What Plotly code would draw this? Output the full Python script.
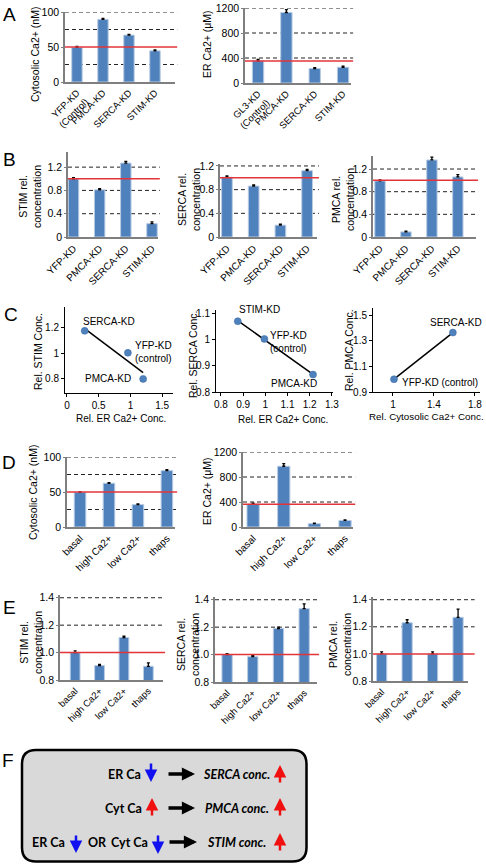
import numpy as np
import plotly.graph_objects as go

W, H = 486, 864
FONT = "Liberation Sans, Arial, sans-serif"
BAR = "#4f81bd"
BAR_EDGE = "#b8cce4"
RED = "#e3343a"
AX = "#7f7f7f"

# ---------------- data ----------------
a_cyt_cats = ["YFP-KD<br>(Control)", "PMCA-KD", "SERCA-KD", "STIM-KD"]
a_cyt_vals = [49.5, 89.5, 67, 44.5]
a_cyt_err = [1.2, 1.2, 1.0, 1.2]
a_cyt_ref = 50

a_er_cats = ["GL3-KD<br>(Control)", "PMCA-KD", "SERCA-KD", "STIM-KD"]
a_er_vals = [355, 1128, 232, 252]
a_er_err = [22, 45, 14, 18]
a_er_ref = 352

b_cats = ["YFP-KD", "PMCA-KD", "SERCA-KD", "STIM-KD"]
b_stim_vals = [1.0, 0.81, 1.27, 0.23]
b_stim_err = [0.02, 0.02, 0.03, 0.03]
b_serca_vals = [1.01, 0.86, 0.2, 1.12]
b_serca_err = [0.02, 0.02, 0.015, 0.02]
b_pmca_vals = [0.99, 0.09, 1.36, 1.06]
b_pmca_err = [0.02, 0.015, 0.05, 0.04]
b_ref = 1.0

c1_x = [0.28, 0.96, 1.2]
c1_y = [1.174, 1.003, 0.8]
c1_labels = ["SERCA-KD", "YFP-KD<br>(control)", "PMCA-KD"]
c2_x = [0.876, 0.996, 1.215]
c2_y = [1.072, 1.004, 0.867]
c2_labels = ["STIM-KD", "YFP-KD<br>(control)", "PMCA-KD"]
c3_x = [1.01, 1.585]
c3_y = [1.0, 1.365]
c3_labels = ["YFP-KD (control)", "SERCA-KD"]

d_cats = ["basal", "high Ca2+", "low Ca2+", "thaps"]
d_cyt_vals = [49.5, 62.5, 32, 80.5]
d_cyt_err = [0.8, 1.0, 1.0, 1.5]
d_cyt_ref = 50
d_er_vals = [365, 972, 53, 105]
d_er_err = [15, 42, 8, 8]
d_er_ref = 365

e_cats = ["basal", "high Ca2+", "low Ca2+", "thaps"]
e_stim_vals = [1.0, 0.905, 1.11, 0.9]
e_stim_err = [0.012, 0.008, 0.01, 0.025]
e_serca_vals = [1.0, 0.985, 1.19, 1.335]
e_serca_err = [0.006, 0.008, 0.01, 0.035]
e_pmca_vals = [1.0, 1.23, 1.0, 1.27]
e_pmca_err = [0.015, 0.022, 0.015, 0.06]
e_ref = 1.0

# ---------------- figure ----------------
fig = go.Figure()
layout = dict(width=W, height=H, margin=dict(l=0, r=0, t=0, b=0), autosize=False,
              paper_bgcolor="white", plot_bgcolor="white", showlegend=False,
              font=dict(family=FONT, size=10, color="black"))
shapes = []
annotations = []


def PX(x):
    return x / W


def PY(y):
    return 1 - y / H


def names(i):
    return ("xaxis" if i == 1 else f"xaxis{i}", "yaxis" if i == 1 else f"yaxis{i}",
            "x" if i == 1 else f"x{i}", "y" if i == 1 else f"y{i}")


def set_axes(i, box, xr, yr, xkw, ykw):
    xa, ya, xs, ys = names(i)
    x0, y0, x1, y1 = box
    layout[xa] = dict(domain=[PX(x0), PX(x1)], range=xr, anchor=ys, automargin=False,
                      showgrid=False, zeroline=False, fixedrange=True, **xkw)
    layout[ya] = dict(domain=[PY(y1), PY(y0)], range=yr, anchor=xs, automargin=False,
                      showgrid=False, zeroline=False, fixedrange=True, **ykw)


def bar_panel(i, box, cats, vals, err, xr, yr, tickvals, dashed, ref, bw=0.4, tickformat=None,
              x1ext=1.02, catsize=10):
    xa, ya, xs, ys = names(i)
    xkw = dict(type="category", showline=True, linecolor=AX, linewidth=1.5, ticks="",
               tickangle=-45, tickfont=dict(size=catsize))
    ykw = dict(showline=True, linecolor=AX, linewidth=1.5, ticks="outside", ticklen=2,
               tickcolor=AX, tickvals=tickvals, tickfont=dict(size=10.5))
    if tickformat:
        ykw["tickformat"] = tickformat
    set_axes(i, box, xr, yr, xkw, ykw)
    fig.add_trace(go.Bar(x=cats, y=vals, xaxis=xs, yaxis=ys, width=bw,
                         marker=dict(color=BAR, line=dict(color=BAR_EDGE, width=1)),
                         error_y=dict(type="data", array=err, arrayminus=[0] * len(err),
                                      symmetric=False, color="black", thickness=1.3, width=1.5)))
    for v in dashed:
        shapes.append(dict(type="line", xref=f"{xs} domain", yref=ys, x0=0, x1=x1ext, y0=v, y1=v,
                           layer="below", line=dict(color="#222222", width=1, dash="4px,3px")))
    shapes.append(dict(type="line", xref=f"{xs} domain", yref=ys, x0=0, x1=x1ext, y0=ref, y1=ref,
                       layer="above", line=dict(color=RED, width=1.5)))


def scatter_panel(i, box, xs_, ys_, labels, xr, yr, xt, yt, label_pos):
    xa, ya, xs, ys = names(i)
    kw = dict(showline=True, linecolor="black", linewidth=1, ticks="outside", ticklen=3,
              tickcolor="black", tickfont=dict(size=10))
    set_axes(i, box, xr, yr, dict(kw, tickvals=xt), dict(kw, tickvals=yt))
    slope, icpt = np.polyfit(xs_, ys_, 1)
    lx = [min(xs_), max(xs_)]
    fig.add_trace(go.Scatter(x=lx, y=[slope * v + icpt for v in lx], mode="lines", xaxis=xs, yaxis=ys,
                             line=dict(color="black", width=1.5)))
    fig.add_trace(go.Scatter(x=xs_, y=ys_, mode="markers", xaxis=xs, yaxis=ys,
                             marker=dict(color=BAR, size=7, line=dict(color="#3a6aa5", width=0.5))))
    for xv, yv, lab, (anc, dx, dy) in zip(xs_, ys_, labels, label_pos):
        annotations.append(dict(x=xv, y=yv, xref=xs, yref=ys, text=lab, showarrow=False,
                                xanchor=anc, yanchor="middle", xshift=dx, yshift=dy,
                                align="center", font=dict(size=10)))


# Panel A
bar_panel(1, (65, 12, 175, 82), a_cyt_cats, a_cyt_vals, a_cyt_err, [-0.46, 3.77], [0, 100],
          [0, 50, 100], [25, 75, 100], a_cyt_ref, catsize=9.5)
bar_panel(2, (245, 8, 351, 83), a_er_cats, a_er_vals, a_er_err, [-0.46, 3.28], [0, 1200],
          [0, 400, 800, 1200], [400, 800, 1200], a_er_ref, catsize=9.5)
# Panel B
bar_panel(3, (68, 152, 158, 237), b_cats, b_stim_vals, b_stim_err, [-0.21, 3.23], [0, 1.46],
          [0, 0.4, 0.8, 1.2], [0.4, 0.8, 1.2], b_ref)
bar_panel(4, (220, 164, 317, 237), b_cats, b_serca_vals, b_serca_err, [-0.26, 3.37], [0, 1.233],
          [0, 0.4, 0.8, 1.2], [0.4, 0.8, 1.2], b_ref)
bar_panel(5, (373, 156, 476, 237), b_cats, b_pmca_vals, b_pmca_err, [-0.27, 3.7], [0, 1.43],
          [0, 0.4, 0.8, 1.2], [0.4, 0.8, 1.2], b_ref)
# Panel C
scatter_panel(6, (65, 307, 173, 393), c1_x, c1_y, c1_labels, [-0.03, 1.67], [0.69, 1.36],
              [0, 0.5, 1, 1.5], [0.8, 1, 1.2],
              [("left", -4, 9), ("left", 5, 1), ("right", -10, 0)])
scatter_panel(7, (216, 310, 333, 392), c2_x, c2_y, c2_labels, [0.778, 1.305], [0.8, 1.115],
              [0.8, 0.9, 1, 1.1, 1.2, 1.3], [0.8, 0.9, 1, 1.1],
              [("left", -1, 12), ("left", 4, -3), ("right", 6, -9)])
scatter_panel(8, (373, 308, 480, 392), c3_x, c3_y, c3_labels, [0.805, 1.85], [0.9, 1.557],
              [1, 1.4, 1.8], [0.9, 1.1, 1.3, 1.5],
              [("left", 6, -3), ("center", 3, 10)])
# Panel D
bar_panel(9, (67, 457, 175, 527), d_cats, d_cyt_vals, d_cyt_err, [-0.45, 3.28], [0, 100],
          [0, 50, 100], [25, 75, 100], d_cyt_ref)
bar_panel(10, (243, 452, 353, 527), d_cats, d_er_vals, d_er_err, [-0.33, 3.26], [0, 1200],
          [0, 400, 800, 1200], [400, 800, 1200], d_er_ref)
# Panel E
bar_panel(11, (60, 595, 163, 680), e_cats, e_stim_vals, e_stim_err, [-0.62, 3.6], [0.8, 1.42],
          [0.8, 1.0, 1.2, 1.4], [1.2, 1.4], e_ref, tickformat=".1f", catsize=9.5)
bar_panel(12, (215, 597, 317, 682), e_cats, e_serca_vals, e_serca_err, [-0.47, 3.5], [0.8, 1.42],
          [0.8, 1.0, 1.2, 1.4], [1.2, 1.4], e_ref, tickformat=".1f", catsize=9.5)
bar_panel(13, (373, 597, 468, 681), e_cats, e_pmca_vals, e_pmca_err, [-0.34, 3.39], [0.8, 1.42],
          [0.8, 1.0, 1.2, 1.4], [1.2, 1.4], e_ref, tickformat=".1f", x1ext=1.07, catsize=9.5)


# ---------------- text ----------------
def txt(x, y, s, size=10.5, angle=0, xanchor="center", yanchor="middle", family=FONT, color="black", align="center"):
    annotations.append(dict(x=PX(x), y=PY(y), xref="paper", yref="paper", text=s, showarrow=False,
                            textangle=angle, xanchor=xanchor, yanchor=yanchor, align=align,
                            font=dict(size=size, family=family, color=color)))


# panel letters
for letter, (lx, ly) in {"A": (9, 14), "B": (9, 160), "C": (11, 315), "D": (9, 462),
                         "E": (9, 607), "F": (8, 760)}.items():
    txt(lx, ly, letter, size=19)

# y-axis titles
txt(35, 55, "Cytosolic Ca2+ (nM)", angle=-90)
txt(207, 44, "ER Ca2+ (μM)", angle=-90)
txt(30, 197, "STIM rel.<br>concentration", angle=-90)
txt(189, 200, "SERCA rel.<br>concentration", angle=-90)
txt(343, 200, "PMCA rel.<br>concentration", angle=-90)
txt(38, 352, "Rel. STIM Conc.", angle=-90)
txt(193, 354, "Rel. SERCA Conc.", angle=-90)
txt(349, 350, "Rel. PMCA Conc.", angle=-90)
txt(121, 418, "Rel. ER Ca2+ Conc.", size=10)
txt(283, 419, "Rel. ER Ca2+ Conc.", size=10)
txt(426, 417, "Rel. Cytosolic Ca2+ Conc.", size=9.8)
txt(33, 493, "Cytosolic Ca2+ (nM)", angle=-90)
txt(207, 491, "ER Ca2+ (μM)", angle=-90)
txt(31, 643, "STIM rel.<br>concentration", angle=-90)
txt(188, 645, "SERCA rel.<br>concentration", angle=-90)
txt(340, 645, "PMCA rel.<br>concentration", angle=-90)


# ---------------- panel F ----------------
def rrect(x0, y0, x1, y1, r):
    p = [f"M {PX(x0 + r)},{PY(y0)}", f"L {PX(x1 - r)},{PY(y0)}",
         f"Q {PX(x1)},{PY(y0)} {PX(x1)},{PY(y0 + r)}", f"L {PX(x1)},{PY(y1 - r)}",
         f"Q {PX(x1)},{PY(y1)} {PX(x1 - r)},{PY(y1)}", f"L {PX(x0 + r)},{PY(y1)}",
         f"Q {PX(x0)},{PY(y1)} {PX(x0)},{PY(y1 - r)}", f"L {PX(x0)},{PY(y0 + r)}",
         f"Q {PX(x0)},{PY(y0)} {PX(x0 + r)},{PY(y0)}", "Z"]
    return " ".join(p)


shapes.append(dict(type="path", xref="paper", yref="paper", path=rrect(22, 750, 306.5, 861.5, 14),
                   fillcolor="#d9d9d9", line=dict(color="black", width=2.5), layer="below"))

FF = "Lato, Carlito, Liberation Sans, sans-serif"


def ftxt(x, y, s, anchor):
    txt(x, y, s, size=12.5, xanchor=anchor, family=FF)


def arrow(xh, yh, ax, ay, color, width=2.5, size=1.0):
    annotations.append(dict(x=PX(xh), y=PY(yh), xref="paper", yref="paper", text="",
                            showarrow=True, ax=ax, ay=ay, axref="pixel", ayref="pixel",
                            arrowhead=2, arrowsize=size, arrowwidth=width, arrowcolor=color,
                            standoff=0, startstandoff=0))


BLUE = "#1010f0"
REDA = "#f01010"
rows = [774, 808, 842]
# row 1
ftxt(143, rows[0], "<b>ER Ca</b>", "right")
arrow(151, 782, 0, -20, BLUE)
arrow(195, rows[0], -28, 0, "black", width=3.5, size=0.75)
ftxt(201, rows[0], "<b><i>SERCA conc.</i></b>", "left")
arrow(280, 765, 0, 19, REDA)
# row 2
ftxt(144, rows[1], "<b>Cyt Ca</b>", "right")
arrow(152, 798, 0, 19, REDA)
arrow(195, rows[1], -28, 0, "black", width=3.5, size=0.75)
ftxt(203, rows[1], "<b><i>PMCA conc.</i></b>", "left")
arrow(280, 798, 0, 19, REDA)
# row 3
ftxt(67, rows[2], "<b>ER Ca</b>", "right")
arrow(76, 853, 0, -19, BLUE)
ftxt(97, rows[2], "<b>OR</b>", "center")
ftxt(150, rows[2], "<b>Cyt Ca</b>", "right")
arrow(158, 854, 0, -20, BLUE)
arrow(197, rows[2], -29, 0, "black", width=3.5, size=0.75)
ftxt(205, rows[2], "<b><i>STIM conc.</i></b>", "left")
arrow(280, 833, 0, 19, REDA)

layout["shapes"] = shapes
layout["annotations"] = annotations
fig.update_layout(**layout)
fig.write_html("out.html", config={"displayModeBar": False},
               post_script="document.body.style.margin='0';document.body.style.overflow='hidden';")
